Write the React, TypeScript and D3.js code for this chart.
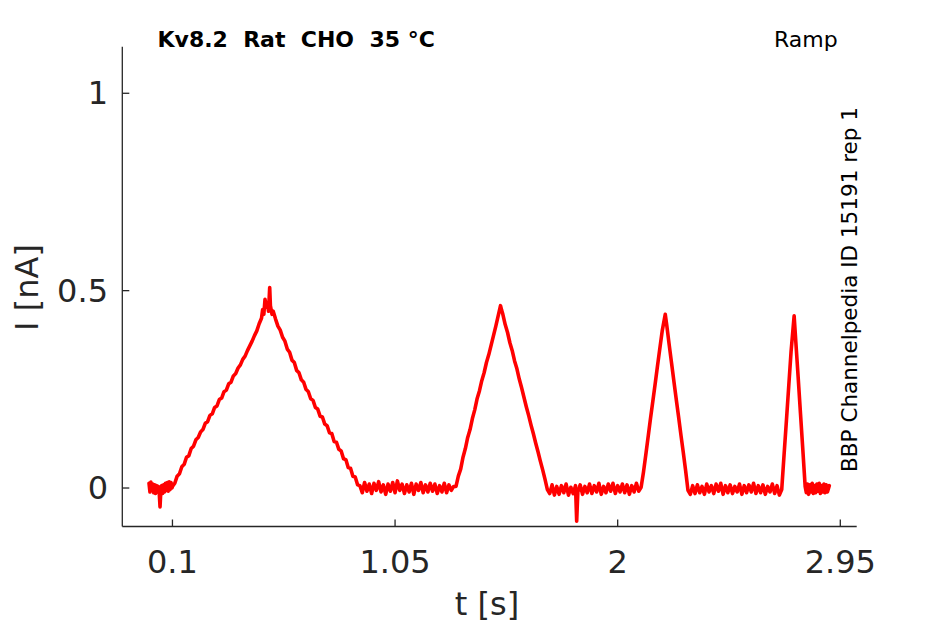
import React from "react";
import * as d3 from "d3";

// ---- data ----
const xTicks = [0.1, 1.05, 2, 2.95];
const xTickLabels = ["0.1", "1.05", "2", "2.95"];
const yTicks = [0, 0.5, 1];
const yTickLabels = ["0", "0.5", "1"];

const titleText = "Kv8.2  Rat  CHO  35 °C";
const protocolText = "Ramp";
const sideText = "BBP Channelpedia ID 15191 rep 1";
const xLabel = "t [s]";
const yLabel = "I [nA]";

// baseline before first ramp
const baselineA: [number, number][] = [
  [0.000, 0.012], [0.004, -0.010], [0.008, 0.015], [0.012, -0.006], [0.016, 0.010],
  [0.020, -0.012], [0.024, 0.008], [0.028, -0.014], [0.032, 0.006], [0.036, -0.010],
  [0.040, 0.004], [0.044, -0.016], [0.047, -0.048], [0.050, -0.012], [0.054, 0.006],
  [0.058, -0.014], [0.062, 0.008], [0.066, -0.010], [0.070, 0.012], [0.074, -0.006],
  [0.078, 0.014], [0.082, -0.008], [0.086, 0.016], [0.090, -0.004], [0.094, 0.014],
  [0.098, 0.000],
];

// first (slow) ramp 0.1 -> 0.5 -> 0.9 s
const ramp1: [number, number][] = [
  [0.10, 0.004], [0.11, 0.012], [0.12, 0.030], [0.13, 0.036], [0.14, 0.054],
  [0.15, 0.060], [0.16, 0.078], [0.17, 0.082], [0.18, 0.100], [0.19, 0.106],
  [0.20, 0.122], [0.21, 0.128], [0.22, 0.142], [0.23, 0.148], [0.24, 0.164],
  [0.25, 0.168], [0.26, 0.184], [0.27, 0.188], [0.28, 0.204], [0.29, 0.208],
  [0.30, 0.224], [0.31, 0.228], [0.32, 0.244], [0.33, 0.248], [0.34, 0.264],
  [0.35, 0.268], [0.36, 0.284], [0.37, 0.290], [0.38, 0.304], [0.39, 0.312],
  [0.40, 0.326], [0.41, 0.334], [0.42, 0.348], [0.43, 0.360], [0.44, 0.372],
  [0.45, 0.386], [0.46, 0.398], [0.47, 0.416], [0.48, 0.430], [0.485, 0.452],
  [0.49, 0.440], [0.495, 0.478], [0.50, 0.458], [0.505, 0.470], [0.51, 0.448],
  [0.515, 0.508], [0.518, 0.462], [0.52, 0.456], [0.525, 0.440], [0.53, 0.448],
  [0.54, 0.428], [0.55, 0.410], [0.56, 0.400], [0.57, 0.382], [0.58, 0.372],
  [0.59, 0.352], [0.60, 0.344], [0.61, 0.324], [0.62, 0.318], [0.63, 0.298],
  [0.64, 0.292], [0.65, 0.274], [0.66, 0.268], [0.67, 0.250], [0.68, 0.244],
  [0.69, 0.226], [0.70, 0.222], [0.71, 0.204], [0.72, 0.200], [0.73, 0.182],
  [0.74, 0.180], [0.75, 0.162], [0.76, 0.158], [0.77, 0.140], [0.78, 0.138],
  [0.79, 0.118], [0.80, 0.116], [0.81, 0.098], [0.82, 0.094], [0.83, 0.074],
  [0.84, 0.072], [0.85, 0.052], [0.86, 0.050], [0.87, 0.030], [0.88, 0.028],
  [0.89, 0.008],
];

const baselineB: [number, number][] = [
  [0.90, 0.006], [0.91, -0.012], [0.92, 0.014], [0.93, -0.008], [0.94, 0.010],
  [0.95, -0.014], [0.96, 0.012], [0.97, -0.006], [0.98, 0.016], [0.99, -0.010],
  [1.00, 0.008], [1.01, -0.016], [1.02, 0.010], [1.03, -0.008], [1.04, 0.014],
  [1.05, -0.012], [1.06, 0.018], [1.07, -0.006], [1.08, 0.010], [1.09, -0.014],
  [1.10, 0.008], [1.11, -0.010], [1.12, 0.012], [1.13, -0.016], [1.14, 0.010],
  [1.15, -0.006], [1.16, 0.014], [1.17, -0.012], [1.18, 0.008], [1.19, -0.010],
  [1.20, 0.012], [1.21, -0.008], [1.22, 0.010], [1.23, -0.014], [1.24, 0.006],
  [1.25, -0.010], [1.26, 0.012], [1.27, -0.012], [1.28, 0.008], [1.29, -0.006],
  [1.30, 0.004],
];

// second ramp 1.3 -> 1.5 -> 1.7 s
const ramp2: [number, number][] = [
  [1.31, 0.004], [1.32, 0.030], [1.33, 0.048], [1.34, 0.078], [1.35, 0.100],
  [1.36, 0.128], [1.37, 0.148], [1.38, 0.176], [1.39, 0.198], [1.40, 0.226],
  [1.41, 0.246], [1.42, 0.272], [1.43, 0.292], [1.44, 0.318], [1.45, 0.338],
  [1.46, 0.362], [1.47, 0.386], [1.48, 0.410], [1.49, 0.436], [1.50, 0.462],
  [1.505, 0.450], [1.51, 0.440], [1.52, 0.414], [1.53, 0.394], [1.54, 0.368],
  [1.55, 0.348], [1.56, 0.322], [1.57, 0.302], [1.58, 0.276], [1.59, 0.254],
  [1.60, 0.230], [1.61, 0.206], [1.62, 0.184], [1.63, 0.160], [1.64, 0.138],
  [1.65, 0.114], [1.66, 0.092], [1.67, 0.068], [1.68, 0.046], [1.69, 0.022],
];

const baselineC: [number, number][] = [
  [1.70, -0.004], [1.71, -0.014], [1.72, 0.008], [1.73, -0.018], [1.74, 0.004],
  [1.75, -0.016], [1.76, 0.006], [1.77, -0.012], [1.78, 0.010], [1.79, -0.018],
  [1.80, 0.002], [1.81, -0.014], [1.82, 0.006], [1.825, -0.084], [1.83, -0.010],
  [1.84, 0.008], [1.85, -0.016], [1.86, 0.004], [1.87, -0.012], [1.88, 0.010],
  [1.89, -0.014], [1.90, 0.006], [1.91, -0.010], [1.92, 0.012], [1.93, -0.016],
  [1.94, 0.004], [1.95, -0.012], [1.96, 0.010], [1.97, -0.008], [1.98, 0.012],
  [1.99, -0.014], [2.00, 0.006], [2.01, -0.010], [2.02, 0.010], [2.03, -0.012],
  [2.04, 0.008], [2.05, -0.016], [2.06, 0.006], [2.07, -0.010], [2.08, 0.012],
  [2.09, -0.008], [2.10, 0.002],
];

// third ramp 2.1 -> 2.2 -> 2.3 s
const ramp3: [number, number][] = [
  [2.11, 0.040], [2.12, 0.084], [2.13, 0.130], [2.14, 0.176], [2.15, 0.220],
  [2.16, 0.264], [2.17, 0.310], [2.18, 0.354], [2.19, 0.398], [2.203, 0.440],
  [2.21, 0.410], [2.22, 0.362], [2.23, 0.316], [2.24, 0.270], [2.25, 0.224],
  [2.26, 0.180], [2.27, 0.134], [2.28, 0.090], [2.29, 0.044],
];

const baselineD: [number, number][] = [
  [2.30, -0.006], [2.31, -0.016], [2.32, 0.006], [2.33, -0.014], [2.34, 0.008],
  [2.35, -0.012], [2.36, 0.004], [2.37, -0.016], [2.38, 0.010], [2.39, -0.010],
  [2.40, 0.006], [2.41, -0.014], [2.42, 0.010], [2.43, -0.008], [2.44, 0.012],
  [2.45, -0.016], [2.46, 0.006], [2.47, -0.012], [2.48, 0.008], [2.49, -0.014],
  [2.50, 0.004], [2.51, -0.010], [2.52, 0.010], [2.53, -0.016], [2.54, 0.006],
  [2.55, -0.012], [2.56, 0.008], [2.57, -0.010], [2.58, 0.012], [2.59, -0.014],
  [2.60, 0.006], [2.61, -0.012], [2.62, 0.008], [2.63, -0.016], [2.64, 0.004],
  [2.65, -0.010], [2.66, 0.010], [2.67, -0.014], [2.68, 0.006], [2.69, -0.018],
  [2.70, -0.004],
];

// fourth ramp 2.7 -> 2.75 -> 2.8 s
const ramp4: [number, number][] = [
  [2.71, 0.084], [2.72, 0.170], [2.73, 0.258], [2.74, 0.346], [2.753, 0.436],
  [2.76, 0.372], [2.77, 0.282], [2.78, 0.190], [2.79, 0.098],
];

const baselineE: [number, number][] = [
  [2.80, 0.004], [2.805, -0.012], [2.81, 0.010], [2.815, -0.016], [2.82, 0.008],
  [2.825, -0.010], [2.83, 0.012], [2.835, -0.014], [2.84, 0.006], [2.845, -0.012],
  [2.85, 0.010], [2.855, -0.008], [2.86, 0.012], [2.865, -0.014], [2.87, 0.006],
  [2.875, -0.010], [2.88, 0.010], [2.885, -0.012], [2.89, 0.008], [2.895, -0.010],
  [2.903, 0.006],
];

const trace = [
  ...baselineA, ...ramp1, ...baselineB, ...ramp2, ...baselineC,
  ...ramp3, ...baselineD, ...ramp4, ...baselineE,
];

// ---- layout ----
const W = 945;
const H = 624;
const axL = 122.3;
const axR = 856.7;
const axT = 46.7;
const axB = 526.5;
const font = "'DejaVu Sans', 'Liberation Sans', sans-serif";
const axisColor = "#262626";

export default function App() {
  const x = d3.scaleLinear().domain([-0.114, 3.02]).range([axL, axR]);
  const y = d3.scaleLinear().domain([-0.0975, 1.118]).range([axB, axT]);
  const line = d3
    .line<[number, number]>()
    .x((d) => x(d[0]))
    .y((d) => y(d[1]));

  return (
    <svg
      width={W}
      height={H}
      viewBox={`0 0 ${W} ${H}`}
      style={{ position: "absolute", left: 0, top: 0, display: "block", background: "#fff" }}
      fontFamily={font}
    >
      <rect x={0} y={0} width={W} height={H} fill="#fff" />
      {/* trace */}
      <path
        d={line(trace) || ""}
        fill="none"
        stroke="#ff0000"
        strokeWidth={3.6}
        strokeLinejoin="round"
        strokeLinecap="round"
      />
      {/* axes */}
      <line x1={axL} x2={axL} y1={axT} y2={axB} stroke={axisColor} strokeWidth={1.3} />
      <line x1={axL} x2={axR} y1={axB} y2={axB} stroke={axisColor} strokeWidth={1.3} />
      {xTicks.map((t, i) => (
        <g key={`xt${i}`}>
          <line x1={x(t)} x2={x(t)} y1={axB} y2={axB - 7} stroke={axisColor} strokeWidth={1.3} />
          <text x={x(t)} y={573} textAnchor="middle" fontSize={32} fill={axisColor}>
            {xTickLabels[i]}
          </text>
        </g>
      ))}
      {yTicks.map((t, i) => (
        <g key={`yt${i}`}>
          <line x1={axL} x2={axL + 7} y1={y(t)} y2={y(t)} stroke={axisColor} strokeWidth={1.3} />
          <text
            x={108}
            y={y(t) + 11}
            textAnchor="end"
            fontSize={32}
            fill={axisColor}
          >
            {yTickLabels[i]}
          </text>
        </g>
      ))}
      {/* axis labels */}
      <text x={487} y={615} textAnchor="middle" fontSize={32} fill={axisColor}>
        {xLabel}
      </text>
      <text
        transform={`translate(37.7, 287.5) rotate(-90)`}
        textAnchor="middle"
        fontSize={32}
        fill={axisColor}
      >
        {yLabel}
      </text>
      {/* annotations */}
      <text
        x={157.5}
        y={47}
        fontSize={22}
        fontWeight="bold"
        fill="#000"
        xmlSpace="preserve"
        style={{ whiteSpace: "pre" }}
      >
        {titleText}
      </text>
      <text x={774} y={47} fontSize={22} fill="#000">
        {protocolText}
      </text>
      <text
        transform={`translate(857, 289.5) rotate(-90)`}
        textAnchor="middle"
        fontSize={21.5}
        fill="#000"
      >
        {sideText}
      </text>
    </svg>
  );
}
